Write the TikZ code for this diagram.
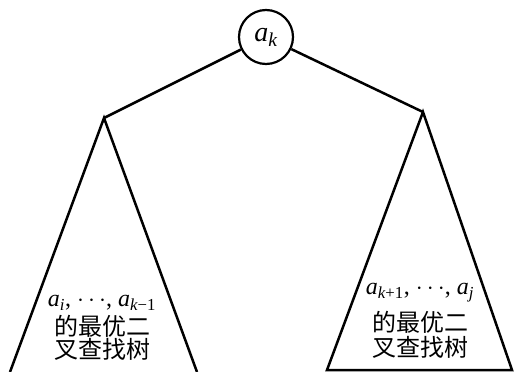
\documentclass[tikz,border=0pt]{standalone}
\usepackage{fontspec}
\newfontfamily\cjk{Noto Sans CJK SC}
\newfontfamily\tms{Liberation Serif}
\newcommand{\avar}[1]{{\tms\itshape a}\textsubscript{\tms #1}}
\begin{document}
\begin{tikzpicture}[x=1pt,y=-1pt,
  edge/.style={line width=2.5pt, line join=miter},
  lbl/.style={font=\fontsize{24}{26}\selectfont\tms, inner sep=0pt},
  cjklbl/.style={font=\fontsize{24}{26}\selectfont\cjk, inner sep=0pt, text height=17pt, text depth=2pt}]
\useasboundingbox (0,0) rectangle (514,372);
\node[circle, draw, line width=2.2pt, minimum size=54pt, inner sep=0pt, font=\fontsize{28}{28}\selectfont] (root) at (266,37) {\avar{\itshape k}};
\coordinate (L) at (104,118);
\coordinate (R) at (423,112);
\coordinate (L1) at (10,372);
\coordinate (L2) at (197,372);
\coordinate (R1) at (327,370);
\coordinate (R2) at (512,370);
\draw[edge] (root) -- (L);
\draw[edge] (root) -- (R);
\draw[edge] (L1) -- (L) -- (L2);
\draw[edge] (R1) -- (R) -- (R2) -- cycle;
\node[lbl] (l1) at (102,303) {\avar{\itshape i}, $\cdots$, \avar{{\itshape k}\textminus 1}};
\node[cjklbl] (l2) at (102,328) {的最优二};
\node[cjklbl] (l3) at (102,351) {叉查找树};
\node[lbl] (r1) at (420,293) {\avar{{\itshape k}+1}, $\cdots$, \avar{\itshape j}};
\node[cjklbl] (r2) at (420,324) {的最优二};
\node[cjklbl] (r3) at (420,349) {叉查找树};
\end{tikzpicture}
\end{document}
